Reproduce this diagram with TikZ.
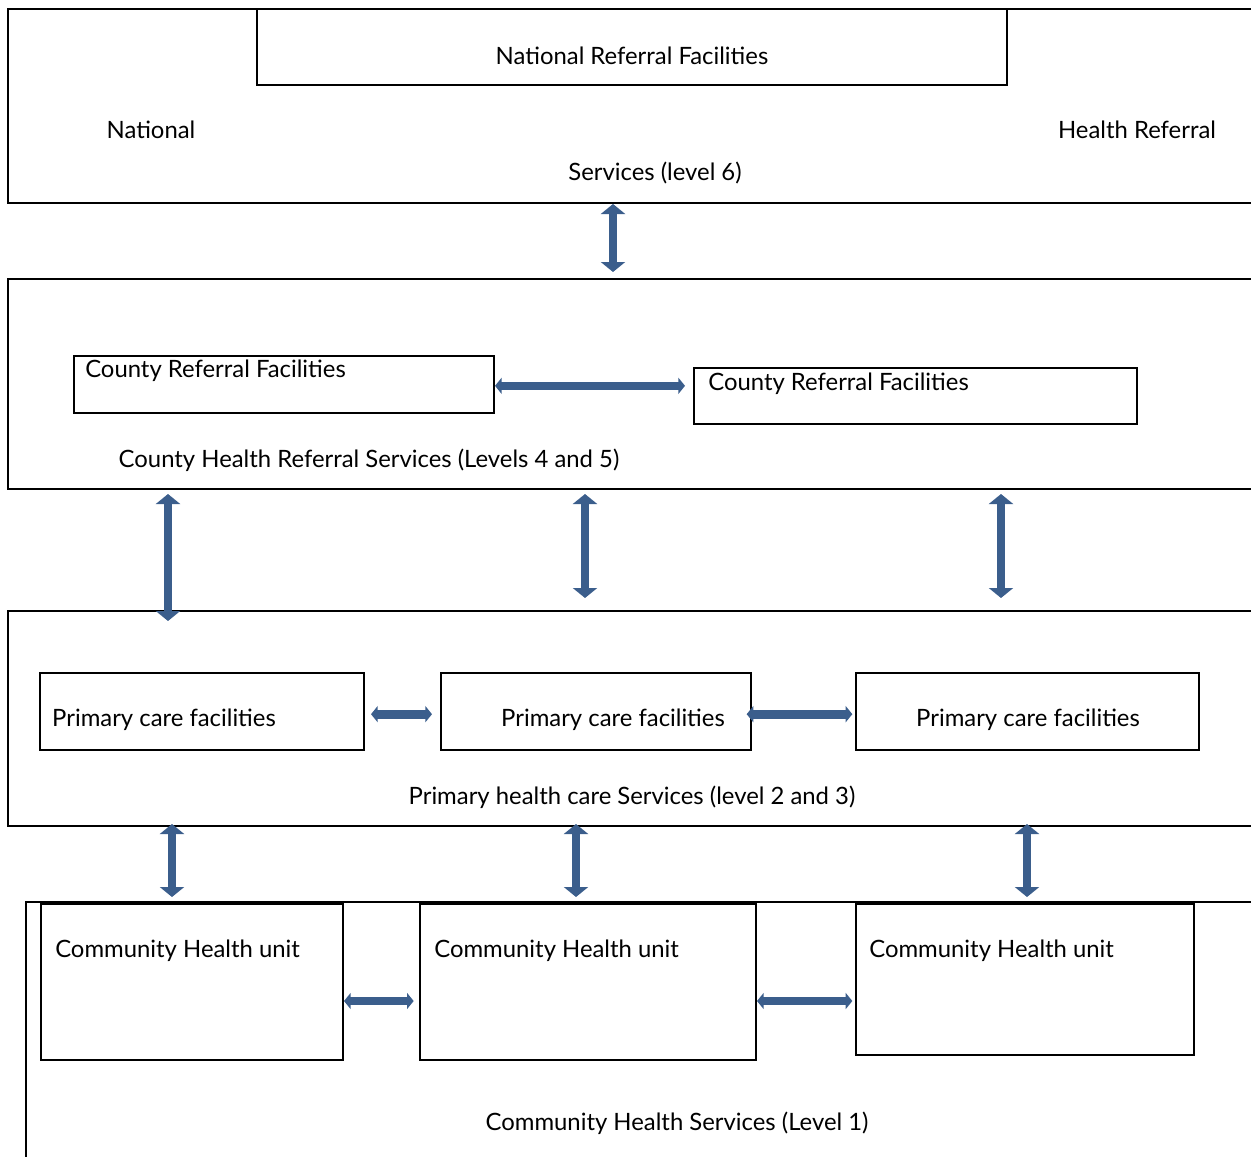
\documentclass[tikz,border=0pt]{standalone}
\usepackage{fontspec}
\setmainfont{Lato}
\usetikzlibrary{arrows.meta,fit}
\definecolor{arrowblue}{RGB}{59,94,140}

\tikzset{
  frame/.style={draw, line width=1.5pt},
  box/.style={draw, line width=1.5pt, inner sep=0pt},
  txt/.style={font=\fontsize{17.9}{21}\selectfont, inner sep=0pt},
  vlink/.style={arrowblue, line width=6.5pt,
    {Triangle[width=18pt,length=7.5pt]}-{Triangle[width=18pt,length=7.5pt]}},
  hlink/.style={arrowblue, line width=6.5pt,
    {Triangle[width=12pt,length=5pt]}-{Triangle[width=12pt,length=5pt]}},
}

\begin{document}
\begin{tikzpicture}[x=0.75pt, y=-0.75pt]
    \useasboundingbox (0,0) rectangle (1251,1156);
    \clip (0,0) rectangle (1251,1156);

    % level 6
    \draw[frame] (1300,9) -| (8,203) -- (1300,203);
    \node[box, fit={(257,9) (1007,85)}] (nrf) {};
    \node[txt] (nrftext) at (632,56) {National Referral Facilities};
    \node[txt] (natl) at (151,130) {National};
    \node[txt] (hr) at (1137,130) {Health Referral};
    \node[txt] (svc6) at (655,173) {Services (level 6)};

    % levels 4 and 5
    \draw[frame] (1300,279) -| (8,489) -- (1300,489);
    \node[box, fit={(74,356) (494,413)}] (cA) {};
    \node[txt, anchor=west] (cAtext) at (85,371) {County Referral Facilities};
    \node[box, fit={(694,368) (1137,424)}] (cB) {};
    \node[txt, anchor=west] (cBtext) at (708,384) {County Referral Facilities};
    \node[txt] (svc45) at (369,460) {County Health Referral Services (Levels 4 and 5)};
    \draw[hlink, shorten >=6pt] ([yshift=-1pt]cA.east) -- ([yshift=-1pt]cA.east -| cB.west);

    % levels 2 and 3
    \draw[frame] (1300,611) -| (8,826) -- (1300,826);
    \node[box, fit={(40,673) (364,750)}] (p1) {};
    \node[box, fit={(441,673) (751,750)}] (p2) {};
    \node[box, fit={(856,673) (1199,750)}] (p3) {};
    \node[txt] (p1text) at (164,720) {Primary care facilities};
    \node[txt] (p2text) at (613,720) {Primary care facilities};
    \node[txt] (p3text) at (1028,720) {Primary care facilities};
    \node[txt] (svc23) at (632,797) {Primary health care Services (level 2 and 3)};
    \draw[hlink, shorten <=4.5pt, shorten >=6pt] ([yshift=-2pt]p1.east) -- ([yshift=-2pt]p2.west);
    \draw[hlink, shorten <=-4pt, shorten >=2pt] ([yshift=-2pt]p2.east) -- ([yshift=-2pt]p3.west);

    % level 1
    \draw[frame] (1300,902) -| (26,1200);
    \node[box, fit={(41,904) (343,1060)}] (c1) {};
    \node[box, fit={(420,904) (756,1060)}] (c2) {};
    \node[box, fit={(856,904) (1194,1055)}] (c3) {};
    \node[txt, anchor=west] (c1text) at (55,951) {Community Health unit};
    \node[txt, anchor=west] (c2text) at (434,951) {Community Health unit};
    \node[txt, anchor=west] (c3text) at (869,951) {Community Health unit};
    \node[txt] (svc1) at (677,1123) {Community Health Services (Level 1)};
    \coordinate (lvl1) at (0,1001);
    \draw[hlink, shorten >=4pt] (c1.east |- lvl1) -- (c2.west |- lvl1);
    \draw[hlink, shorten >=2pt] (c2.east |- lvl1) -- (c3.west |- lvl1);

    % links between levels
    \coordinate (a6) at (613,204);   \coordinate (b6) at (613,272);
    \coordinate (a4l) at (168,494);  \coordinate (b4l) at (168,621);
    \coordinate (a4m) at (585,494);  \coordinate (b4m) at (585,598);
    \coordinate (a4r) at (1001,494); \coordinate (b4r) at (1001,598);
    \coordinate (a2l) at (172,824);  \coordinate (b2l) at (172,897);
    \coordinate (a2m) at (576,824);  \coordinate (b2m) at (576,897);
    \coordinate (a2r) at (1027,824); \coordinate (b2r) at (1027,897);
    \draw[vlink] (a6) -- (b6);
    \draw[vlink] (a4l) -- (b4l);
    \draw[vlink] (a4m) -- (b4m);
    \draw[vlink] (a4r) -- (b4r);
    \draw[vlink] (a2l) -- (b2l);
    \draw[vlink] (a2m) -- (b2m);
    \draw[vlink] (a2r) -- (b2r);
\end{tikzpicture}
\end{document}
